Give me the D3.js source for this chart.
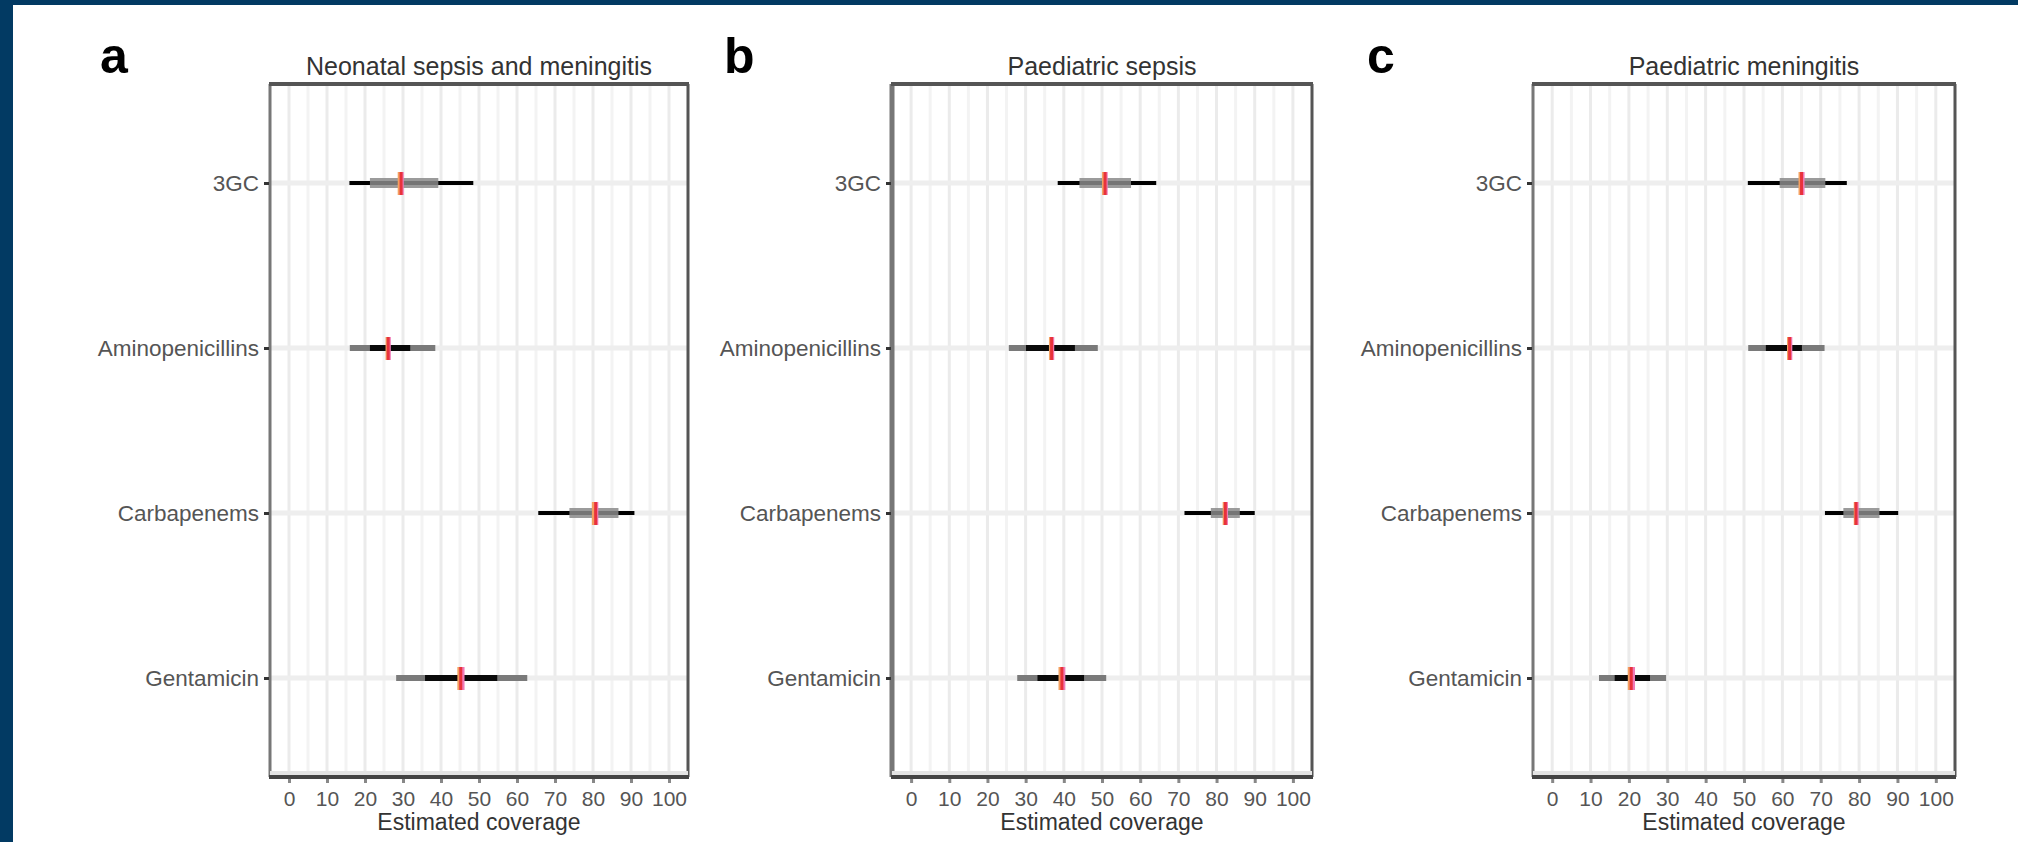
<!DOCTYPE html>
<html>
<head>
<meta charset="utf-8">
<script src="https://cdn.jsdelivr.net/npm/d3@7"></script>
<style>
  body { margin: 0; background: #fff; }
  svg text { font-family: "Liberation Sans", Arial, sans-serif; }
</style>
</head>
<body>
<div id="chart"></div>
<script>
// categories, top to bottom
const categories = ["3GC", "Aminopenicillins", "Carbapenems", "Gentamicin"];
const panelTitles = ["Neonatal sepsis and meningitis", "Paediatric sepsis", "Paediatric meningitis"];
const panelLetters = ["a", "b", "c"];
const xTicks = [0, 10, 20, 30, 40, 50, 60, 70, 80, 90, 100];
const xMinor = [5, 15, 25, 35, 45, 55, 65, 75, 85, 95];

// one row per panel, one value per category
const blackLo = [[15.9, 21.3, 65.6, 35.8], [38.4, 30.1, 71.6, 33.1], [51.0, 55.7, 71.1, 16.3]];
const blackHi = [[48.5, 31.9, 90.9, 54.8], [64.2, 42.9, 90.0, 45.3], [76.8, 65.1, 90.2, 25.5]];
const greyLo  = [[21.3, 16.0, 73.8, 28.2], [44.1, 25.6, 78.5, 27.8], [59.3, 51.1, 75.9, 12.2]];
const greyHi  = [[39.3, 38.5, 86.7, 62.7], [57.6, 48.9, 86.1, 51.1], [71.2, 71.0, 85.3, 29.7]];
const estOrange = [[29.0, 25.8, 80.1, 44.7], [50.4, 36.5, 82.0, 39.0], [64.6, 61.6, 79.0, 20.1]];
const estRed    = [[29.5, 26.1, 80.7, 45.2], [50.8, 36.8, 82.3, 39.5], [65.0, 61.9, 79.2, 20.6]];
const estPink   = [[29.8, 26.4, 81.0, 45.8], [51.1, 37.1, 82.6, 40.0], [65.4, 62.2, 79.5, 21.2]];

const W = 2018, H = 842;
const plotTop = 84, plotBottom = 777;
const panels = [
  { left: 270, right: 688, letterX: 100 },
  { left: 892, right: 1312, letterX: 724 },
  { left: 1533, right: 1955, letterX: 1367 }
];

const svg = d3.select("#chart").append("svg")
  .attr("width", W).attr("height", H);

// navy frame on the left and top
svg.append("rect").attr("x", 0).attr("y", 0).attr("width", W).attr("height", 5).attr("fill", "#023a63");
svg.append("rect").attr("x", 0).attr("y", 0).attr("width", 13).attr("height", H).attr("fill", "#023a63");

const y = d3.scalePoint().domain(categories).range([plotTop, plotBottom]).padding(0.6);

panels.forEach((p, i) => {
  const x = d3.scaleLinear().domain([-5, 105]).range([p.left, p.right]);
  const g = svg.append("g");

  // grid
  g.selectAll(".minor").data(xMinor).enter().append("line")
    .attr("x1", d => x(d)).attr("x2", d => x(d))
    .attr("y1", plotTop).attr("y2", plotBottom)
    .attr("stroke", "#f3f3f3").attr("stroke-width", 3);
  g.selectAll(".major").data(xTicks).enter().append("line")
    .attr("x1", d => x(d)).attr("x2", d => x(d))
    .attr("y1", plotTop).attr("y2", plotBottom)
    .attr("stroke", "#ebebeb").attr("stroke-width", 3);
  g.selectAll(".hgrid").data(categories).enter().append("line")
    .attr("x1", p.left).attr("x2", p.right)
    .attr("y1", d => y(d)).attr("y2", d => y(d))
    .attr("stroke", "#eeeeee").attr("stroke-width", 5);

  // intervals: wider one first, narrower one on top
  const rows = categories.map((c, j) => ({
    cat: c,
    black: [blackLo[i][j], blackHi[i][j]],
    grey: [greyLo[i][j], greyHi[i][j]]
  }));
  rows.forEach(r => {
    const blackWide = (r.black[1] - r.black[0]) > (r.grey[1] - r.grey[0]);
    const segs = blackWide
      ? [{ v: r.black, c: "#000", w: 4, o: 1 }, { v: r.grey, c: "#8a8a8a", w: 10, o: 0.85 }]
      : [{ v: r.grey, c: "#7a7a7a", w: 6, o: 1 }, { v: r.black, c: "#0a0a0a", w: 6, o: 1 }];
    segs.forEach(s => {
      g.append("line")
        .attr("x1", x(s.v[0])).attr("x2", x(s.v[1]))
        .attr("y1", y(r.cat)).attr("y2", y(r.cat))
        .attr("stroke", s.c).attr("stroke-width", s.w).attr("stroke-opacity", s.o);
    });
  });

  // point estimates as short vertical ticks
  const marks = [
    { vals: estOrange[i], c: "#f4a060" },
    { vals: estPink[i], c: "#f07ab8" },
    { vals: estRed[i], c: "#e8323c" }
  ];
  marks.forEach(m => {
    g.selectAll(null).data(categories).enter().append("rect")
      .attr("x", (d, j) => x(m.vals[j]) - 1.5).attr("width", 3)
      .attr("y", d => y(d) - 11).attr("height", 23)
      .attr("fill", m.c);
  });

  // border
  g.append("line").attr("x1", p.left).attr("x2", p.left).attr("y1", plotTop).attr("y2", plotBottom)
    .attr("stroke", "#777").attr("stroke-width", i === 1 ? 5 : 3);
  g.append("line").attr("x1", p.right).attr("x2", p.right).attr("y1", plotTop).attr("y2", plotBottom)
    .attr("stroke", "#555").attr("stroke-width", 3);
  g.append("line").attr("x1", p.left - 1).attr("x2", p.right + 1).attr("y1", plotTop).attr("y2", plotTop)
    .attr("stroke", "#555").attr("stroke-width", 4);
  g.append("line").attr("x1", p.left).attr("x2", p.right).attr("y1", plotBottom - 4).attr("y2", plotBottom - 4)
    .attr("stroke", "#e4e4e4").attr("stroke-width", 4);
  g.append("line").attr("x1", p.left - 1).attr("x2", p.right + 1).attr("y1", plotBottom).attr("y2", plotBottom)
    .attr("stroke", "#444").attr("stroke-width", 4);

  // x axis
  const xAxis = g.append("g").attr("transform", `translate(0,${plotBottom + 2})`)
    .call(d3.axisBottom(x).tickValues(xTicks).tickSize(4).tickPadding(8).tickFormat(d3.format("d")));
  xAxis.select(".domain").remove();
  xAxis.selectAll(".tick line").attr("stroke", "#888").attr("stroke-width", 3);
  xAxis.selectAll(".tick text").attr("font-size", 21).attr("fill", "#555")
    .attr("font-family", "Liberation Sans, Arial, sans-serif");

  // y axis
  const yAxis = g.append("g").attr("transform", `translate(${p.left - 1},0)`)
    .call(d3.axisLeft(y).tickSize(5).tickPadding(5));
  yAxis.select(".domain").remove();
  yAxis.selectAll(".tick line").attr("stroke", "#333").attr("stroke-width", 3);
  yAxis.selectAll(".tick text").attr("font-size", 22.5).attr("fill", "#555")
    .attr("font-family", "Liberation Sans, Arial, sans-serif");

  // titles
  g.append("text").attr("x", (p.left + p.right) / 2).attr("y", 75)
    .attr("text-anchor", "middle").attr("font-size", 25).attr("fill", "#333")
    .text(panelTitles[i]);
  g.append("text").attr("x", (p.left + p.right) / 2).attr("y", 830)
    .attr("text-anchor", "middle").attr("font-size", 23).attr("fill", "#333")
    .text("Estimated coverage");
  g.append("text").attr("x", p.letterX).attr("y", 73)
    .attr("font-size", 50).attr("font-weight", "bold").attr("fill", "#000")
    .text(panelLetters[i]);
});
</script>
</body>
</html>
